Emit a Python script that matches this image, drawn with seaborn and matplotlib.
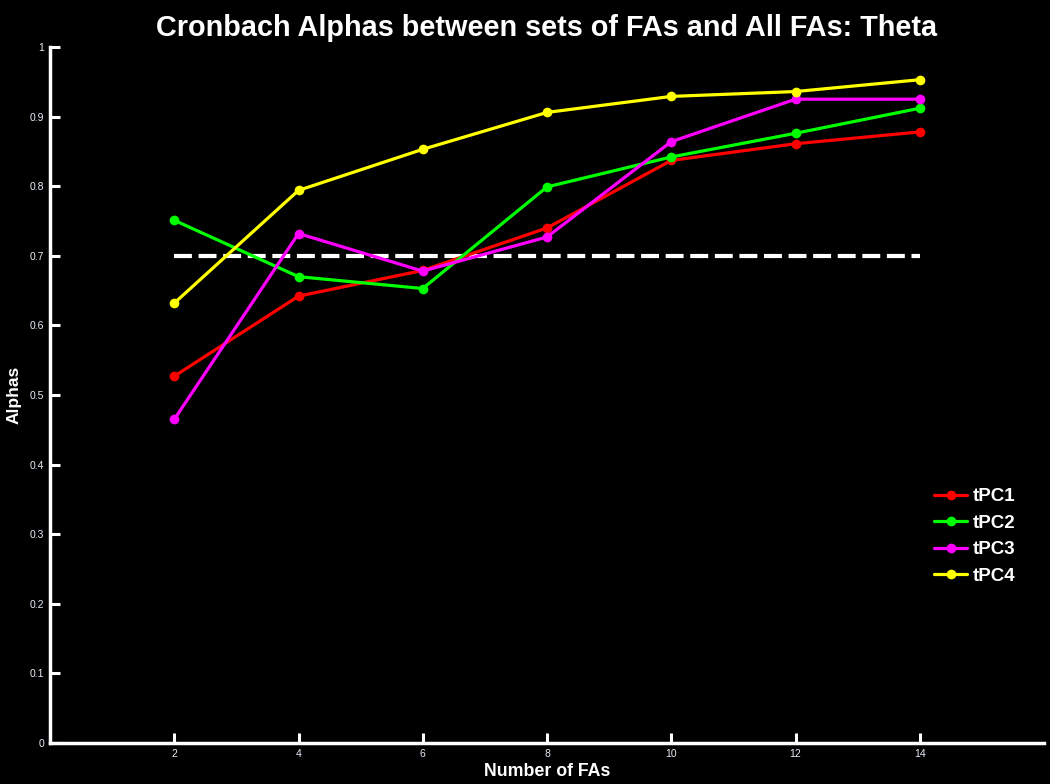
import pandas as pd
import matplotlib
matplotlib.use('Agg')
import matplotlib.pyplot as plt
import seaborn as sns

n_fas = [2, 4, 6, 8, 10, 12, 14]
tpc1 = [0.527, 0.642, 0.679, 0.740, 0.837, 0.861, 0.878]
tpc2 = [0.751, 0.670, 0.653, 0.799, 0.842, 0.876, 0.912]
tpc3 = [0.465, 0.732, 0.678, 0.727, 0.864, 0.925, 0.925]
tpc4 = [0.632, 0.794, 0.853, 0.906, 0.929, 0.936, 0.953]
series_names = ['tPC1', 'tPC2', 'tPC3', 'tPC4']
series_colors = ['#ff0000', '#00ff00', '#ff00ff', '#ffff00']
threshold_x = [2, 14]
threshold_y = [0.7, 0.7]
y_ticks = [0, 0.1, 0.2, 0.3, 0.4, 0.5, 0.6, 0.7, 0.8, 0.9, 1]
y_tick_labels = ['0', '0.1', '0.2', '0.3', '0.4', '0.5', '0.6', '0.7', '0.8', '0.9', '1']

rows = []
for name, vals in zip(series_names, [tpc1, tpc2, tpc3, tpc4]):
    for x, v in zip(n_fas, vals):
        rows.append({'Number of FAs': x, 'Alphas': v, 'Series': name})
df = pd.DataFrame(rows)

sns.set_style('dark', {'axes.facecolor': 'black', 'figure.facecolor': 'black'})
plt.rcParams['font.family'] = ['Liberation Sans', 'DejaVu Sans']

fig = plt.figure(figsize=(10.5, 7.84), dpi=100)
fig.patch.set_facecolor('black')
ax = fig.add_axes([50 / 1050, 41 / 784, 994 / 1050, 696 / 784])
ax.set_facecolor('black')

ax.plot(threshold_x, threshold_y, color='white', lw=3, dashes=(4.3, 1.6), zorder=1)

sns.lineplot(data=df, x='Number of FAs', y='Alphas', hue='Series',
             palette=series_colors, marker='o', markersize=7, linewidth=2.3,
             markeredgewidth=0, ax=ax, zorder=2)

ax.set_xlim(0, 16)
ax.set_ylim(0, 1)
ax.set_xticks(n_fas)
ax.set_xticklabels([str(x) for x in n_fas])
ax.set_yticks(y_ticks)
ax.set_yticklabels(y_tick_labels)
ax.tick_params(bottom=True, left=True, direction='in', length=7, width=2.2,
               colors='white', labelcolor='#e6eef8', labelsize=7.5, pad=4)
ax.grid(False)
for s in ['top', 'right']:
    ax.spines[s].set_visible(False)
for s in ['left', 'bottom']:
    ax.spines[s].set_color('white')
    ax.spines[s].set_linewidth(2.5)

ax.set_xlabel('Number of FAs', color='white', fontsize=12.8, fontweight='bold', labelpad=3)
ax.set_ylabel('Alphas', color='white', fontsize=12.5, fontweight='bold', labelpad=6)
ax.set_title('Cronbach Alphas between sets of FAs and All FAs: Theta',
             color='white', fontsize=20.8, fontweight='bold', pad=8)

leg = ax.legend(loc='center left', bbox_to_anchor=(0.872, 0.297), frameon=False,
                fontsize=13.5, handlelength=1.8, labelspacing=0.5, handletextpad=0.3)
for t in leg.get_texts():
    t.set_color('white')
    t.set_fontweight('bold')

fig.savefig('out.png', dpi=100, facecolor='black')
